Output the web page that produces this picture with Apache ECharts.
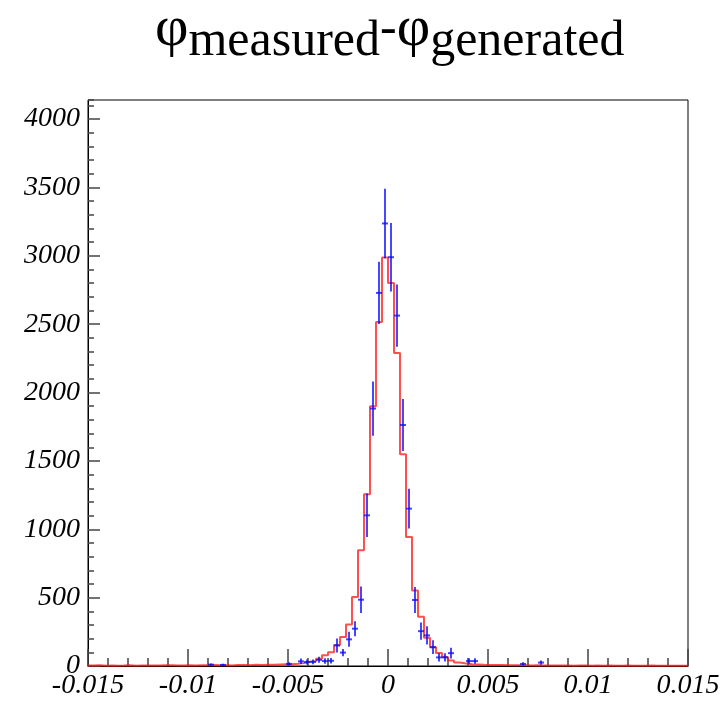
<!DOCTYPE html>
<html>
<head>
<meta charset="utf-8">
<script src="https://cdn.jsdelivr.net/npm/echarts@6/dist/echarts.min.js"></script>
<style>html,body{margin:0;padding:0;background:#fff}#c{width:726px;height:701px}</style>
</head>
<body>
<div id="c"></div>
<script>
// Histogram binning: 100 bins from -0.015 to 0.015
const binLow = -0.015;
const binWidth = 0.0003;
const nBins = 100;

// Red step histogram (bin contents)
const redValues = [
  3,5,2,4,2,3,5,2,4,3,
  4,3,5,6,4,3,5,4,6,5,
  7,5,6,4,7,8,6,9,8,10,
  9,11,13,12,16,21,32,35,53,78,
  100,154,212,304,504,846,1256,1900,2517,2988,
  2802,2290,1548,943,553,360,206,138,95,65,
  41,26,18,13,11,9,8,7,7,6,
  5,6,5,4,5,4,3,4,3,4,
  2,3,4,2,3,2,3,2,1,3,
  2,1,2,3,1,2,1,2,1,2
];

// Blue points: bin index, value, error
const blueBins   = [20, 22, 33, 35, 36, 37, 38, 39, 40, 41, 42, 43, 44, 45, 46, 47, 48, 49, 50, 51, 52, 53, 54, 55, 56, 57, 58, 59, 60, 63, 64, 72, 75];
const blueValues = [10,  8, 15, 34, 29, 30, 45, 36, 38,150, 98,195,273,485,1102,1883,2729,3237,2990,2563,1763,1151,483,255,224,138, 63, 63, 94, 36, 36, 15, 25];
const blueErrors = [ 8,  8, 12, 20, 18, 18, 22, 20, 20, 51, 27, 55, 55, 97, 159, 198, 228, 254, 250, 228, 190, 146, 95, 63, 66, 50, 30, 30, 40, 20, 20, 12, 15];

// Axis settings
const xMin = -0.015, xMax = 0.015, xInterval = 0.005;
const yMin = 0, yMax = 4140, yInterval = 500, yMinorInterval = 100;

// Build step path for red histogram
const redStep = [];
for (let k = 0; k < nBins; k++) {
  const lo = binLow + k * binWidth, hi = lo + binWidth;
  redStep.push([lo, redValues[k]]);
  redStep.push([hi, redValues[k]]);
}
const blueData = blueBins.map((k, i) => [binLow + (k + 0.5) * binWidth, blueValues[i], blueErrors[i]]);

const chart = echarts.init(document.getElementById('c'), null, {renderer: 'canvas'});
const serif = "'Liberation Serif', 'DejaVu Serif', serif";
chart.setOption({
  animation: false,
  backgroundColor: '#ffffff',
  title: {
    left: 150,
    top: -4,
    text: '{p|φ}{s|measured}{m|-}{p|φ}{s|generated}',
    textStyle: {
      fontWeight: 'normal',
      rich: {
        p: {fontFamily: serif, fontSize: 58, fontWeight: 'normal', color: '#000', verticalAlign: 'bottom', padding: [0,0,8,0]},
        s: {fontFamily: serif, fontSize: 50, fontWeight: 'normal', color: '#000', verticalAlign: 'bottom'},
        m: {fontFamily: serif, fontSize: 50, fontWeight: 'normal', color: '#000', verticalAlign: 'bottom', padding: [0,0,12,0]}
      }
    }
  },
  grid: {left: 88, right: 38, top: 100, bottom: 35, show: true, borderColor: '#000', borderWidth: 1, backgroundColor: 'transparent'},
  xAxis: {
    type: 'value', min: xMin, max: xMax, interval: xInterval,
    axisLine: {show: true, onZero: false, lineStyle: {color: '#000', width: 1}},
    axisTick: {show: true, inside: true, length: 17, lineStyle: {color: '#444', width: 1.5}},
    minorTick: {show: true, splitNumber: 5, length: 8, lineStyle: {color: '#444', width: 1.5}},
    splitLine: {show: false},
    axisLabel: {
      fontFamily: serif, fontStyle: 'italic', fontSize: 28, color: '#000', margin: 6,
      formatter: v => {
        const r = Math.round(v * 1000) / 1000;
        return r === 0 ? '0' : String(r);
      }
    }
  },
  yAxis: [{
    type: 'value', min: yMin, max: yMax, interval: yInterval,
    axisLine: {show: true, onZero: false, lineStyle: {color: '#000', width: 1}},
    axisTick: {show: true, inside: true, length: 12, lineStyle: {color: '#444', width: 1.5}},
    splitLine: {show: false},
    axisLabel: {
      fontFamily: serif, fontStyle: 'italic', fontSize: 28, color: '#000', margin: 8,
      showMaxLabel: false,
      formatter: v => (v % 500 === 0 ? String(v) : '')
    }
  }, {
    type: 'value', min: yMin, max: yMax, interval: yMinorInterval, position: 'left',
    axisLine: {show: false, onZero: false},
    axisTick: {show: true, inside: true, length: 6, lineStyle: {color: '#444', width: 1.5}},
    splitLine: {show: false},
    axisLabel: {show: false}
  }],
  series: [{
    type: 'line',
    data: redStep,
    symbol: 'none',
    lineStyle: {color: 'rgba(255,20,20,0.75)', width: 2},
    z: 3
  }, {
    type: 'custom',
    data: blueData,
    z: 4,
    renderItem: function (params, api) {
      const x = api.value(0), y = api.value(1), e = api.value(2);
      const c = api.coord([x, y]);
      const top = api.coord([x, y + e]);
      const bot = api.coord([x, Math.max(0, y - e)]);
      const half = api.size([binWidth, 0])[0] / 2;
      const style = {stroke: 'rgba(10,10,255,0.75)', lineWidth: 2};
      return {
        type: 'group',
        children: [
          {type: 'line', shape: {x1: c[0], y1: top[1], x2: c[0], y2: bot[1]}, style: style},
          {type: 'line', shape: {x1: c[0] - half, y1: c[1], x2: c[0] + half, y2: c[1]}, style: style}
        ]
      };
    }
  }]
});
</script>
</body>
</html>
